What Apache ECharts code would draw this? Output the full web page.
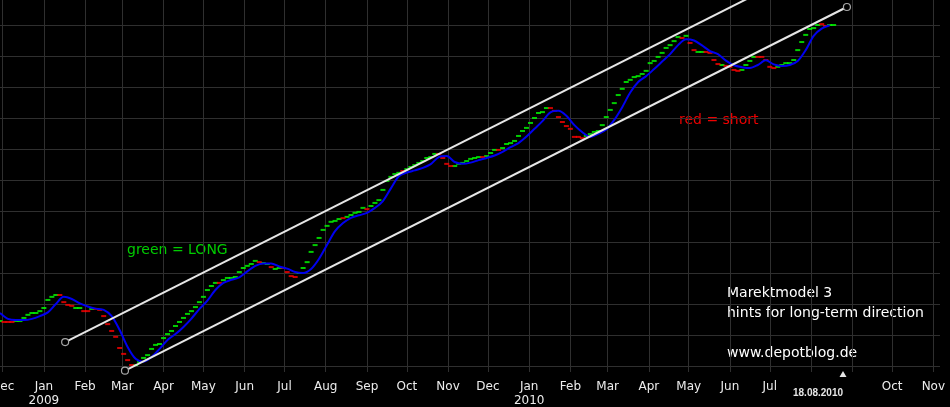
<!DOCTYPE html>
<html><head><meta charset="utf-8">
<script src="https://cdn.jsdelivr.net/npm/echarts@6/dist/echarts.min.js"></script>
<style>html,body{margin:0;padding:0;background:#000;}#c{width:950px;height:407px;}</style>
</head><body><div id="c"></div>
<script>
// ---- data ----
const axisStart = '2008-11-29';
const axisEnd = '2010-11-06';
const priceStart = '2008-11-29';
const priceStepDays = 3;
const priceValues = [
1145,1142,1142,1142,1145,1145,1155,1165,1171,1171,
1177,1187,1213,1223,1229,1229,1206,1197,1194,1187,
1187,1177,1177,1184,1184,1181,1161,1135,1113,1094,
1058,1039,1019,1003,1003,1013,1026,1035,1055,1068,
1071,1090,1103,1113,1129,1142,1155,1168,1177,1190,
1206,1223,1245,1258,1268,1268,1277,1284,1284,1287,
1303,1316,1323,1329,1339,1335,1332,1329,1319,1313,
1316,1316,1303,1290,1287,1300,1316,1335,1368,1390,
1413,1439,1452,1465,1468,1474,1477,1481,1487,1494,
1497,1510,1506,1516,1526,1535,1568,1597,1610,1619,
1623,1629,1635,1642,1648,1655,1661,1671,1674,1684,
1684,1671,1652,1645,1645,1652,1655,1661,1668,1671,
1674,1674,1677,1687,1697,1697,1703,1716,1719,1726,
1742,1758,1768,1784,1800,1816,1819,1832,1832,1823,
1803,1787,1774,1765,1739,1739,1735,1742,1748,1755,
1758,1777,1803,1826,1848,1874,1894,1916,1923,1932,
1935,1942,1952,1977,1984,1997,2010,2026,2035,2048,
2061,2058,2065,2042,2019,2013,2013,2013,2010,1987,
1974,1971,1968,1965,1955,1952,1955,1971,1984,1997,
1997,1997,1987,1965,1961,1965,1971,1977,1977,1987,
2019,2045,2068,2087,2090,2100,2103,2097,2100,2100
];
// g = long (green), r = short (red)
const priceSignals =
'grrrgggggg' + 'gggggrrrrg' + 'grrgrrrrrr' + 'rrrrgggggg' + 'gggggggggg' +
'gggggrgggg' + 'gggggrggrg' + 'grrrrggggg' + 'ggggggrggg' + 'ggrggggggg' +
'grgggggggg' + 'rrrrgggggg' + 'grgggrgggg' + 'ggggggggrr' + 'rrrrrrrggg' +
'gggggggggg' + 'gggggggggg' + 'grgrrggrrr' + 'rgrrrrgggg' + 'rrrrrggggg' +
'ggggggrrgg';
const maStart = '2008-11-29';
const maStepDays = 6;
const maValues = [
1171,1152,1148,1148,1152,1161,1173,1200,1223,1216,
1202,1192,1185,1181,1161,1116,1061,1023,1014,1029,
1055,1084,1103,1126,1153,1184,1211,1245,1268,1278,
1286,1305,1323,1331,1331,1321,1314,1303,1300,1313,
1346,1391,1435,1461,1478,1486,1494,1510,1532,1573,
1612,1624,1631,1639,1651,1674,1677,1658,1652,1656,
1664,1671,1679,1691,1706,1719,1740,1765,1790,1818,
1823,1807,1777,1754,1739,1749,1763,1794,1835,1882,
1916,1935,1958,1982,2006,2035,2054,2050,2034,2016,
2006,1985,1970,1964,1961,1971,1986,1973,1968,1971,
1984,2019,2065,2088,2099
];
const upperChannel = [['2009-01-17', 1077], ['2010-06-23', 2204]];
const lowerChannel = [['2009-03-03', 985], ['2010-08-28', 2158]];
const monthNames = ['Jan','Feb','Mar','Apr','May','Jun','Jul','Aug','Sep','Oct','Nov','Dec'];
const hiddenMonthLabels = ['2010-08-01', '2010-09-01'];
const lastDateLabel = '18.08.2010';
const yMin = 980.6, yMax = 2180.6, yStep = 100;

// ---- build ----
function addDays(s, n) {
  const d = new Date(s + 'T00:00:00Z');
  d.setUTCDate(d.getUTCDate() + n);
  return d.toISOString().slice(0, 10);
}
const categories = [];
for (let d = axisStart; d <= axisEnd; d = addDays(d, 1)) categories.push(d);

const longData = [], shortData = [];
priceValues.forEach((v, i) => {
  const item = [addDays(priceStart, i * priceStepDays), v];
  (priceSignals[i] === 'g' ? longData : shortData).push(item);
});
const maData = maValues.map((v, i) => [addDays(maStart, i * maStepDays), v]);

const isMonthStart = (v) => v.slice(8) === '01';
const font = "'DejaVu Sans', sans-serif";

const chart = echarts.init(document.getElementById('c'), null, {renderer: 'canvas'});
const circle = {color: '#000', borderColor: '#a8a8a8', borderWidth: 1.2};

chart.setOption({
  animation: false,
  backgroundColor: '#000',
  grid: {left: 0, right: 10, top: 0, bottom: 35, containLabel: false, outerBoundsMode: 'none'},
  xAxis: {
    type: 'category', data: categories, boundaryGap: false,
    axisLine: {show: false}, axisTick: {show: false},
    axisLabel: {
      interval: (i, v) => isMonthStart(v) && hiddenMonthLabels.indexOf(v) < 0,
      formatter: (v) => {
        const m = +v.slice(5, 7);
        return m === 1 ? monthNames[0] + '\n' + v.slice(0, 4) : monthNames[m - 1];
      },
      color: '#ececec', fontFamily: font, fontSize: 12, lineHeight: 14, margin: 8,
      hideOverlap: false
    },
    splitLine: {show: true, interval: (i, v) => isMonthStart(v), lineStyle: {color: '#2f2f2f', width: 1}}
  },
  yAxis: {
    type: 'value', min: yMin, max: yMax, minInterval: yStep, maxInterval: yStep, splitNumber: 12,
    axisLine: {show: false}, axisTick: {show: false}, axisLabel: {show: false},
    splitLine: {show: true, showMinLine: false, showMaxLine: false, lineStyle: {color: '#2f2f2f', width: 1}}
  },
  series: [
    {name: 'long', type: 'scatter', data: longData, symbol: 'rect', symbolSize: [5, 2],
     itemStyle: {color: '#00ff00'}, z: 2, silent: true},
    {name: 'short', type: 'scatter', data: shortData, symbol: 'rect', symbolSize: [5, 2],
     itemStyle: {color: '#ff0000'}, z: 2, silent: true},
    {name: 'trend', type: 'line', data: maData, smooth: 0.3, showSymbol: false,
     lineStyle: {color: '#0000f0', width: 2}, z: 3, silent: true},
    {name: 'upper', type: 'line', data: [
        {value: upperChannel[0], symbol: 'circle'},
        {value: upperChannel[1], symbol: 'none'}],
     symbolSize: 7, showSymbol: true, showAllSymbol: true, itemStyle: circle,
     lineStyle: {color: '#e6e6e6', width: 2}, z: 4, silent: true},
    {name: 'lower', type: 'line', data: lowerChannel, symbol: 'circle',
     symbolSize: 7, showSymbol: true, showAllSymbol: true, itemStyle: circle, clip: false,
     lineStyle: {color: '#e6e6e6', width: 2}, z: 4, silent: true}
  ],
  graphic: [
    {type: 'text', left: 127, top: 243, style: {text: 'green = LONG', fill: '#00cc00', font: '14px ' + font}},
    {type: 'text', left: 679, top: 113, style: {text: 'red = short', fill: '#ee0000', font: '14px ' + font}},
    {type: 'text', left: 727, top: 286, style: {text: 'Marektmodel 3', fill: '#ffffff', font: '14px ' + font}},
    {type: 'text', left: 727, top: 306, style: {text: 'hints for long-term direction', fill: '#ffffff', font: '14px ' + font}},
    {type: 'text', left: 727, top: 346, style: {text: 'www.depotblog.de', fill: '#ffffff', font: '14px ' + font}},
    {type: 'text', left: 793, top: 388, style: {text: lastDateLabel, fill: '#e6e6e6', font: "bold 10px 'Liberation Sans', sans-serif"}},
    {type: 'polygon', shape: {points: [[839.5, 377], [846.5, 377], [843, 371]]}, style: {fill: '#e6e6e6'}}
  ]
});
</script></body></html>
